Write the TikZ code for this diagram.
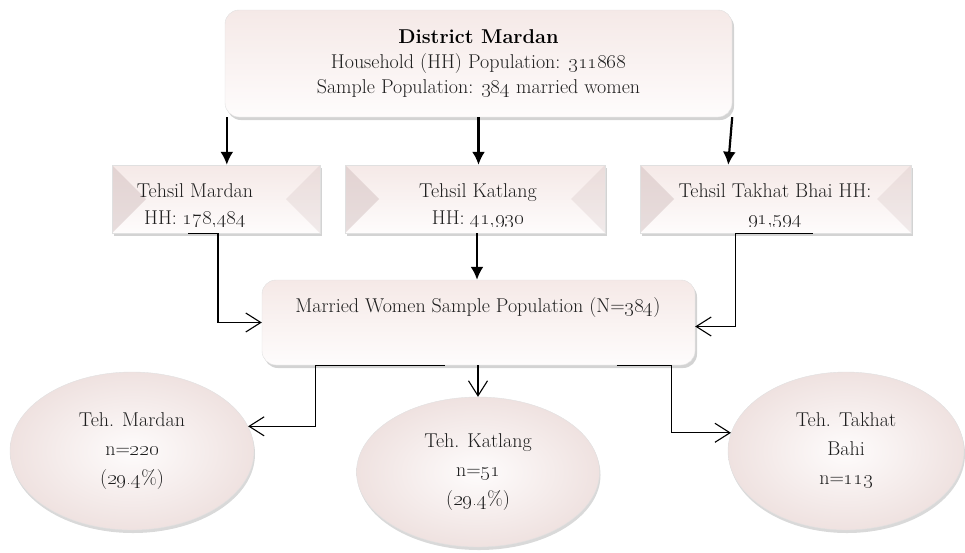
\documentclass[tikz,border=0pt]{standalone}
\usetikzlibrary{shapes.geometric,shadows,calc,arrows.meta}
\definecolor{rosetop}{RGB}{245,233,231}
\definecolor{rosebot}{RGB}{254,252,252}
\definecolor{rosedark}{RGB}{205,185,185}
\definecolor{inktext}{RGB}{30,30,30}
\tikzset{
  panel/.style={draw=black!12, top color=rosetop, bottom color=rosebot,
    drop shadow={opacity=0.35, shadow xshift=2pt, shadow yshift=-3pt},
    inner sep=0pt, minimum width=#1},
  bevel/.style={path picture={
    \fill[rosedark,opacity=.45] (path picture bounding box.north west)
      -- ($(path picture bounding box.west)+(34,0)$) -- (path picture bounding box.south west) -- cycle;
    \fill[rosedark,opacity=.25] (path picture bounding box.north east)
      -- ($(path picture bounding box.east)+(-34,0)$) -- (path picture bounding box.south east) -- cycle;}},
  bubble/.style={ellipse, draw=black!12, inner color=rosebot, outer color=rosetop!85!rosedark,
    drop shadow={opacity=0.3, shadow xshift=1pt, shadow yshift=-3pt},
    inner sep=0pt, minimum width=#1, align=center, text=inktext,
    font=\fontsize{20}{29}\selectfont},
  heavy/.style={line width=2.2pt, -{Latex[length=13pt,width=13pt]}},
  lean/.style={line width=1.1pt, -{Straight Barb[length=15pt,width=19pt]}},
}
\newcommand{\osn}[1]{\oldstylenums{#1}}
\begin{document}
\begin{tikzpicture}[x=1pt, y=-1pt, font=\fontsize{20}{25}\selectfont]
\useasboundingbox (0,0) rectangle (965,552);

\node[panel=507, rounded corners=14pt, minimum height=107, align=center, text=inktext] (dist) at (478.5,63.5)
  {\textcolor{black}{\bfseries District Mardan}\\Household (HH) Population: \osn{311868}\\Sample Population: \osn{384} married women};

\node[panel=208, minimum height=68, bevel] (tmardan) at (216,199) {};
\node[panel=260, minimum height=68, bevel] (tkatlang) at (475,199) {};
\node[panel=271, minimum height=68, bevel] (ttakhat) at (775.5,199) {};
\begin{scope}
  \clip (100,165) rectangle (920,226);
  \node[align=center, text=inktext, font=\fontsize{20}{27}\selectfont] (tmardantxt) at (195,206) {Tehsil Mardan\\HH: \osn{178,484}};
  \node[align=center, text=inktext, font=\fontsize{20}{27}\selectfont] (tkatlangtxt) at (478,206) {Tehsil Katlang\\HH: \osn{41,930}};
  \node[align=center, text=inktext, font=\fontsize{20}{27}\selectfont] (ttakhattxt) at (775,206) {Tehsil Takhat Bhai HH:\\\osn{91,594}};
\end{scope}

\node[panel=433, rounded corners=14pt, minimum height=85] (married) at (478.5,322.5) {};
\node[text=inktext] (marriedtxt) at (478,308) {Married Women Sample Population (N=\osn{384})};

\node[bubble=244, minimum height=158] (emardan) at (132,451) {Teh. Mardan\\n=\osn{220}\\(\osn{29.4}\%)};
\node[bubble=243, minimum height=150] (ekatlang) at (478,472) {Teh. Katlang\\n=\osn{51}\\(\osn{29.4}\%)};
\node[bubble=236, minimum height=158] (etakhat) at (846,451) {Teh. Takhat\\Bahi\\n=\osn{113}};

% top level arrows
\draw[heavy] ($(dist.south west)+(2,0)$) -- ($(dist.south west |- tmardan.north)+(2,0)$);
\draw[heavy] (dist.south) -- (dist.south |- tkatlang.north);
\draw[heavy] (dist.south east) -- ($(dist.south east |- ttakhat.north)+(-4,0)$);
\draw[heavy] ($(tkatlang.south)+(2,0)$) -- ($(tkatlang.south |- married.north)+(2,0)$);

% into the sample
\draw[lean] ($(tmardan.south)+(-28,0)$) -- ($(tmardan.south)+(2,0)$) |- (married.west);
\draw[lean] ($(ttakhat.south)+(37,0)$) -- ($(ttakhat.south)+(-40,0)$) |- ($(married.east)+(0,4)$);

% out to the bubbles
\draw[lean] ($(married.south)+(-34,0)$) -- ($(married.south west)+(54,0)$) |- (emardan.12);
\draw[lean] (married.south -| ekatlang.north) -- (ekatlang.north);
\draw[lean] ($(married.south)+(138,0)$) -- ($(married.south)+(193,0)$) |- (etakhat.171);
\end{tikzpicture}
\end{document}
